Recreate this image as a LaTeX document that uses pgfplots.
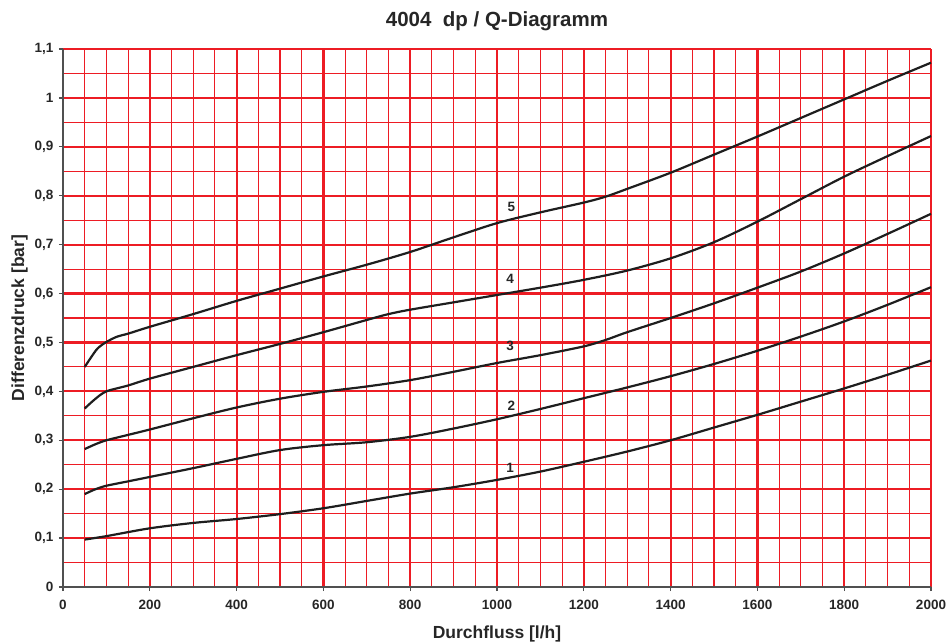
\documentclass[border=0pt]{standalone}
\usepackage{pgfplots}
\pgfplotsset{compat=1.18}
\usepackage{fontspec}
\setmainfont{Liberation Sans}
\definecolor{gridred}{RGB}{237,28,36}
\definecolor{curve}{RGB}{30,30,30}
\definecolor{axisgray}{RGB}{80,80,80}

\begin{document}
\begin{tikzpicture}
\begin{axis}[
    scale only axis,
    width=868pt, height=538pt,
    xmin=0, xmax=2000, ymin=0, ymax=1.1,
    axis lines*=left,
    axis line style={axisgray, line width=1.5pt},
    xtick={0,200,...,2000},
    ytick={0,0.1,...,1.1},
    minor x tick num=3,
    minor y tick num=1,
    tick align=outside,
    major tick length=4pt,
    minor tick length=0pt,
    tick style={axisgray, line width=1.2pt},
    grid=both,
    major grid style={gridred, line width=2.2pt},
    minor grid style={gridred, line width=1.1pt},
    /pgf/number format/assume math mode=true,
    /pgf/number format/use comma,
    /pgf/number format/1000 sep={},
    tick label style={font=\fontsize{13.5}{15}\selectfont\bfseries, text=black!85},
    yticklabel style={xshift=-2pt},
    xticklabel style={yshift=-6pt},
    title={4004\ \ dp / Q-Diagramm},
    title style={font=\fontsize{20.5}{24}\selectfont\bfseries, text=black!85, yshift=9pt},
    xlabel={Durchfluss [l/h]},
    xlabel style={font=\fontsize{17.5}{20}\selectfont\bfseries, text=black!85, yshift=-9pt},
    ylabel={Differenzdruck [bar]},
    ylabel style={font=\fontsize{17.5}{20}\selectfont\bfseries, text=black!85, yshift=0pt},
    clip=false,
]
% Kurve 1
\addplot[curve, line width=2.2pt, smooth, tension=0.5] coordinates {
    (50,0.097) (100,0.104) (200,0.120) (300,0.131) (400,0.139) (500,0.149)
    (600,0.161) (700,0.176) (800,0.191) (900,0.204) (1000,0.219) (1100,0.236)
    (1200,0.256) (1300,0.277) (1400,0.300) (1500,0.326) (1600,0.352)
    (1700,0.379) (1800,0.406) (1900,0.434) (2000,0.463)
};
% Kurve 2
\addplot[curve, line width=2.2pt, smooth, tension=0.5] coordinates {
    (50,0.190) (75,0.200) (100,0.207) (150,0.216) (200,0.225) (300,0.243)
    (400,0.262) (500,0.280) (600,0.290) (700,0.296) (800,0.307) (900,0.324)
    (1000,0.343) (1100,0.364) (1200,0.386) (1300,0.408) (1400,0.431)
    (1500,0.456) (1600,0.483) (1700,0.512) (1800,0.543) (1900,0.577) (2000,0.613)
};
% Kurve 3
\addplot[curve, line width=2.2pt, smooth, tension=0.5] coordinates {
    (50,0.282) (75,0.292) (100,0.300) (150,0.311) (200,0.322) (300,0.345)
    (400,0.367) (500,0.385) (600,0.399) (700,0.410) (800,0.423) (900,0.440)
    (1000,0.458) (1100,0.474) (1200,0.492) (1250,0.505) (1300,0.521)
    (1400,0.550) (1500,0.580) (1600,0.612) (1700,0.645) (1800,0.682)
    (1900,0.722) (2000,0.763)
};
% Kurve 4
\addplot[curve, line width=2.2pt, smooth, tension=0.5] coordinates {
    (50,0.365) (75,0.385) (100,0.400) (150,0.412) (200,0.426) (300,0.450)
    (400,0.474) (500,0.497) (600,0.521) (700,0.546) (750,0.558) (800,0.567)
    (900,0.582) (1000,0.597) (1100,0.612) (1200,0.628) (1300,0.647)
    (1400,0.672) (1500,0.705) (1600,0.747) (1700,0.793) (1800,0.839)
    (1900,0.881) (2000,0.922)
};
% Kurve 5
\addplot[curve, line width=2.2pt, smooth, tension=0.5] coordinates {
    (50,0.450) (65,0.470) (80,0.488) (100,0.501) (125,0.512) (150,0.518)
    (200,0.532) (300,0.558) (400,0.585) (500,0.610) (600,0.635) (700,0.659)
    (800,0.685) (900,0.715) (1000,0.744) (1100,0.766) (1200,0.786)
    (1250,0.798) (1300,0.814) (1400,0.847) (1500,0.884) (1600,0.921)
    (1700,0.959) (1800,0.997) (1900,1.035) (2000,1.072)
};
\node[font=\fontsize{13.5}{15}\selectfont\bfseries, text=black!85] at (axis cs:1030,0.243) {1};
\node[font=\fontsize{13.5}{15}\selectfont\bfseries, text=black!85] at (axis cs:1033,0.370) {2};
\node[font=\fontsize{13.5}{15}\selectfont\bfseries, text=black!85] at (axis cs:1030,0.493) {3};
\node[font=\fontsize{13.5}{15}\selectfont\bfseries, text=black!85] at (axis cs:1030,0.630) {4};
\node[font=\fontsize{13.5}{15}\selectfont\bfseries, text=black!85] at (axis cs:1033,0.777) {5};
\end{axis}
\pgfresetboundingbox
\path ([shift={(-63pt,-55pt)}]current axis.south west) rectangle ([shift={(16pt,49pt)}]current axis.north east);
\end{tikzpicture}
\end{document}
